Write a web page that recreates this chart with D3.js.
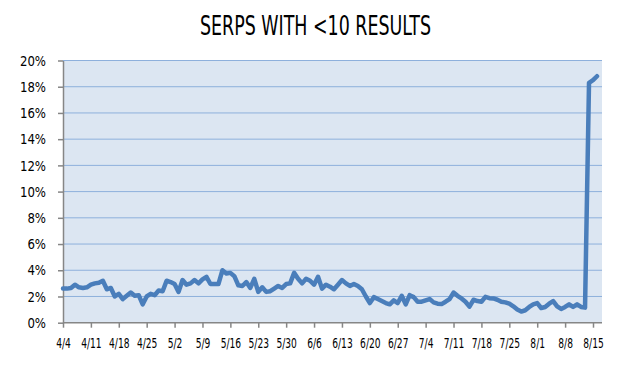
<!DOCTYPE html>
<html>
<head>
<meta charset="utf-8">
<title>SERPs with fewer than 10 results</title>
<script src="https://cdn.jsdelivr.net/npm/d3@7/dist/d3.min.js"></script>
<style>
  body { margin: 0; background: #fff; }
  text { font-family: "DejaVu Sans Condensed", "DejaVu Sans", sans-serif; fill: #000; }
  .axis path, .axis line { stroke: #868686; stroke-width: 1.5; }
  .grid line { stroke: #8eb0dc; stroke-width: 1; }
  path.serp-line { fill: none; stroke: #4a7ebb; stroke-width: 4.5; stroke-linejoin: round; stroke-linecap: round; }
</style>
</head>
<body>
<script>

// daily share of SERPs with fewer than 10 results, in %, from 4/4
var startDate = new Date(2011, 3, 4);
var values = [
  2.6, 2.6, 2.65, 2.9, 2.7, 2.65, 2.7, 2.9, 3.0, 3.05,
  3.2, 2.55, 2.65, 2.0, 2.2, 1.8, 2.05, 2.3, 2.05, 2.1,
  1.4, 2.0, 2.2, 2.1, 2.45, 2.4, 3.2, 3.1, 2.95, 2.35,
  3.25, 2.9, 3.0, 3.25, 3.0, 3.3, 3.5, 2.95, 2.95, 2.95,
  4.0, 3.75, 3.8, 3.55, 2.85, 2.8, 3.1, 2.65, 3.35, 2.35,
  2.7, 2.35, 2.4, 2.6, 2.8, 2.65, 2.95, 3.0, 3.8, 3.35,
  3.0, 3.35, 3.2, 2.9, 3.5, 2.6, 2.9, 2.75, 2.55, 2.9,
  3.25, 3.0, 2.8, 2.95, 2.8, 2.55, 2.0, 1.5, 1.95, 1.8,
  1.65, 1.5, 1.4, 1.7, 1.5, 2.05, 1.4, 2.1, 1.95, 1.6,
  1.6, 1.7, 1.8, 1.55, 1.45, 1.42, 1.6, 1.8, 2.3, 2.05,
  1.85, 1.6, 1.22, 1.75, 1.65, 1.6, 1.97, 1.87, 1.85, 1.75,
  1.6, 1.55, 1.45, 1.25, 1.0, 0.85, 0.95, 1.2, 1.4, 1.5,
  1.12, 1.2, 1.45, 1.65, 1.25, 1.05, 1.2, 1.4, 1.2, 1.4,
  1.2, 1.15, 18.3, 18.5, 18.8
];

var tickLabels = ["4/4", "4/11", "4/18", "4/25", "5/2", "5/9", "5/16", "5/23", "5/30",
  "6/6", "6/13", "6/20", "6/27", "7/4", "7/11", "7/18", "7/25", "8/1", "8/8", "8/15"];
var yTicks = [0, 2, 4, 6, 8, 10, 12, 14, 16, 18, 20];

var width = 624,
    height = 370;

var plotLeft = 63, plotRight = 602, plotTop = 60.5, plotBottom = 322.7;

var parseLabel = d3.timeParse("%m/%d/%Y");
var tickDates = tickLabels.map(function(l){ return parseLabel(l + "/2011"); });

var data = values.map(function(v, i){
  return {date: d3.timeDay.offset(startDate, i), v: v};
});

var x = d3.scaleTime()
    .domain([tickDates[0], tickDates[tickDates.length - 1]])
    .range([63, 593]);

var y = d3.scaleLinear()
    .domain([0, 20])
    .range([plotBottom, plotTop]);

var svg = d3.select("body").append("svg")
    .attr("width", width)
    .attr("height", height);

// title
svg.append("text")
    .attr("x", 315.5)
    .attr("y", 35)
    .attr("text-anchor", "middle")
    .attr("textLength", 231)
    .attr("lengthAdjust", "spacingAndGlyphs")
    .style("font-size", "27px")
    .text("SERPS WITH <10 RESULTS");

// plot background
svg.append("rect")
    .attr("x", plotLeft)
    .attr("y", plotTop)
    .attr("width", plotRight - plotLeft)
    .attr("height", plotBottom - plotTop)
    .style("fill", "#dce6f2");

// gridlines
svg.append("g")
    .attr("class", "grid")
    .selectAll("line")
    .data(yTicks.filter(function(d){ return d > 0; }))
    .enter().append("line")
    .attr("x1", plotLeft)
    .attr("x2", plotRight)
    .attr("y1", function(d){ return y(d); })
    .attr("y2", function(d){ return y(d); });

// y axis
var yAxis = svg.append("g")
    .attr("class", "axis")
    .attr("transform", "translate(" + plotLeft + ",0)")
    .call(d3.axisLeft(y).tickValues(yTicks).tickSize(5).tickSizeOuter(0)
      .tickFormat(function(d){ return d + "%"; }));
yAxis.selectAll("text")
    .attr("x", null)
    .attr("transform", "translate(-17,0) scale(0.9,1)")
    .style("font-size", "14.5px");

// x axis
var xAxis = svg.append("g")
    .attr("class", "axis")
    .attr("transform", "translate(0," + plotBottom + ")")
    .call(d3.axisBottom(x).tickValues(tickDates).tickSize(5).tickSizeOuter(0)
      .tickFormat(function(d, i){ return tickLabels[i]; }));
xAxis.select(".domain").attr("d", "M" + plotLeft + ",0H" + plotRight);
xAxis.selectAll("text")
    .attr("y", 25)
    .attr("dy", null)
    .attr("transform", "scale(0.7,1)")
    .style("font-size", "14.5px");

// the series
var line = d3.line()
    .x(function(d){ return x(d.date); })
    .y(function(d){ return y(d.v); });

svg.append("path")
    .datum(data)
    .attr("class", "serp-line")
    .attr("d", line);

</script>
</body>
</html>
